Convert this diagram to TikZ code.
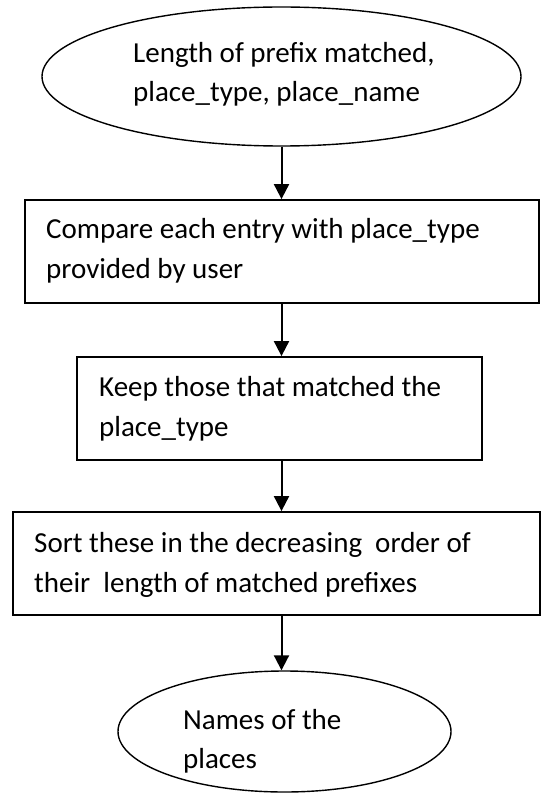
\documentclass[tikz,border=0pt]{standalone}
\usepackage{fontspec}
\setmainfont{Carlito}
\usetikzlibrary{shapes.geometric,arrows.meta}
\begin{document}
\begin{tikzpicture}[x=1pt,y=-1pt,
  terminal/.style={draw=black,line width=1.4pt,ellipse,inner sep=0pt},
  stepbox/.style={draw=black,line width=1.8pt,rectangle,inner sep=0pt},
  label/.style={anchor=base west,inner sep=0pt,font=\fontsize{29}{35}\selectfont},
  flow/.style={line width=2pt,-{Triangle[length=15pt,width=15pt]}}]
\useasboundingbox (0,0) rectangle (542,794);
\fill[white] (0,0) rectangle (542,794);

% shapes
\node[terminal,minimum width=479pt,minimum height=139pt] (e1) at (281.5,76.5) {};
\node[stepbox,minimum width=514pt,minimum height=103pt] (b1) at (282,251.5) {};
\node[stepbox,minimum width=405pt,minimum height=103pt] (b2) at (279.5,408.5) {};
\node[stepbox,minimum width=527pt,minimum height=103pt] (b3) at (276.5,563.5) {};
\node[terminal,minimum width=333pt,minimum height=121pt] (e2) at (284.5,731.5) {};

% texts
\node[label] (t1a) at (133,63) {Length of prefix matched,};
\node[label] (t1b) at (133,102) {place\_type, place\_name};
\node[label] (t2a) at (46,239) {Compare each entry with place\_type};
\node[label] (t2b) at (46,278) {provided by user};
\node[label] (t3a) at (99,396) {Keep those that matched the};
\node[label] (t3b) at (99,436) {place\_type};
\node[label] (t4a) at (34,552) {Sort these in the decreasing\ \ order of};
\node[label] (t4b) at (34,592) {their\ \ length of matched prefixes};
\node[label] (t5a) at (183,729) {Names of the};
\node[label] (t5b) at (183,768) {places};

% connectors
\draw[flow] (e1.south) -- (e1.south |- b1.north);
\draw[flow] (e1.south |- b1.south) -- (e1.south |- b2.north);
\draw[flow] (e1.south |- b2.south) -- (e1.south |- b3.north);
\draw[flow] (e1.south |- b3.south) -- (e1.south |- e2.north);
\end{tikzpicture}
\end{document}
